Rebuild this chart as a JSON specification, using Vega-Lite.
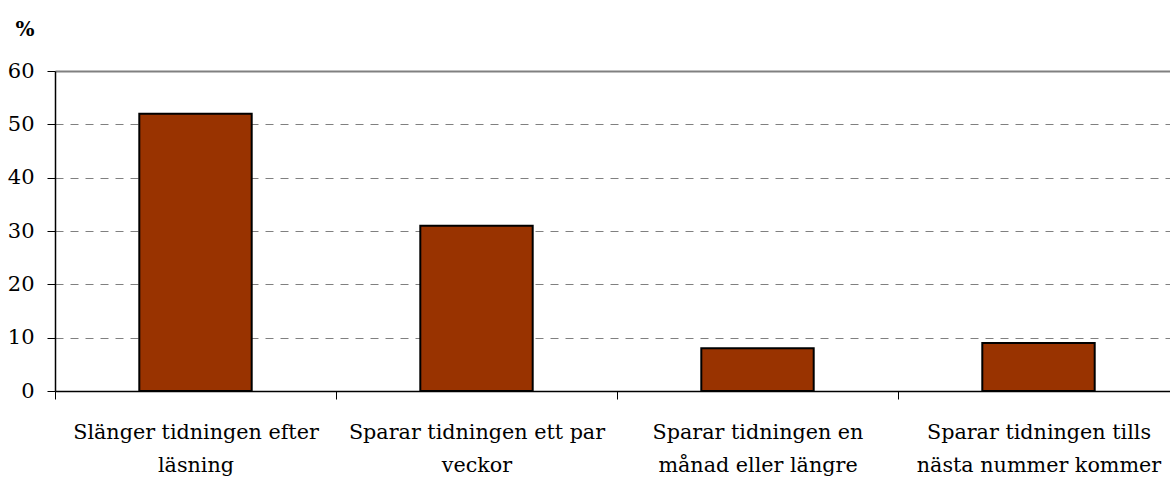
{
  "$schema": "https://vega.github.io/schema/vega-lite/v6.json",
  "autosize": {"type": "none"},
  "width": 1115,
  "height": 320,
  "padding": {"left": 55, "top": 71, "right": 0, "bottom": 86},
  "background": "white",
  "config": {
    "view": {"stroke": null},
    "font": "DejaVu Serif",
    "axis": {"labelFont": "DejaVu Serif", "titleFont": "DejaVu Serif"}
  },
  "data": {
    "values": [
      {"kategori": "Slänger tidningen efter|läsning", "procent": 52},
      {"kategori": "Sparar tidningen ett par|veckor", "procent": 31},
      {"kategori": "Sparar tidningen en|månad eller längre", "procent": 8},
      {"kategori": "Sparar tidningen tills|nästa nummer kommer", "procent": 9}
    ]
  },
  "mark": {"type": "bar", "color": "#993300", "stroke": "black", "strokeWidth": 2, "width": {"band": 0.4}},
  "encoding": {
    "x": {
      "field": "kategori",
      "type": "nominal",
      "sort": null,
      "scale": {"paddingInner": 0, "paddingOuter": 0, "range": [0, 1124]},
      "axis": {
        "title": null,
        "labelAngle": 0,
        "labelExpr": "split(datum.label, '|')",
        "labelFontSize": 20.7,
        "labelColor": "black",
        "labelLimit": 0,
        "labelLineHeight": 33,
        "labelPadding": 23,
        "tickBand": "extent",
        "tickSize": 8,
        "tickColor": "black",
        "domainColor": "black",
        "domainWidth": 1.5,
        "grid": false
      }
    },
    "y": {
      "field": "procent",
      "type": "quantitative",
      "scale": {"domain": [0, 60], "nice": false},
      "axis": {
        "values": [0, 10, 20, 30, 40, 50, 60],
        "title": "%",
        "titleAngle": 0,
        "titleFontSize": 20,
        "titleFontWeight": "bold",
        "titleAlign": "left",
        "titleBaseline": "alphabetic",
        "titleX": -40,
        "titleY": -36,
        "titleColor": "black",
        "labelFontSize": 21,
        "labelColor": "black",
        "labelPadding": 13,
        "tickSize": 8,
        "tickColor": "black",
        "domainColor": "black",
        "domainWidth": 1.5,
        "grid": true,
        "gridColor": "#808080",
        "gridWidth": {"condition": {"test": "datum.value == 60", "value": 2}, "value": 1},
        "gridDash": {"condition": {"test": "datum.value == 60", "value": []}, "value": [8, 7]},
        "gridOpacity": {"condition": {"test": "datum.value == 0", "value": 0}, "value": 1}
      }
    }
  }
}
